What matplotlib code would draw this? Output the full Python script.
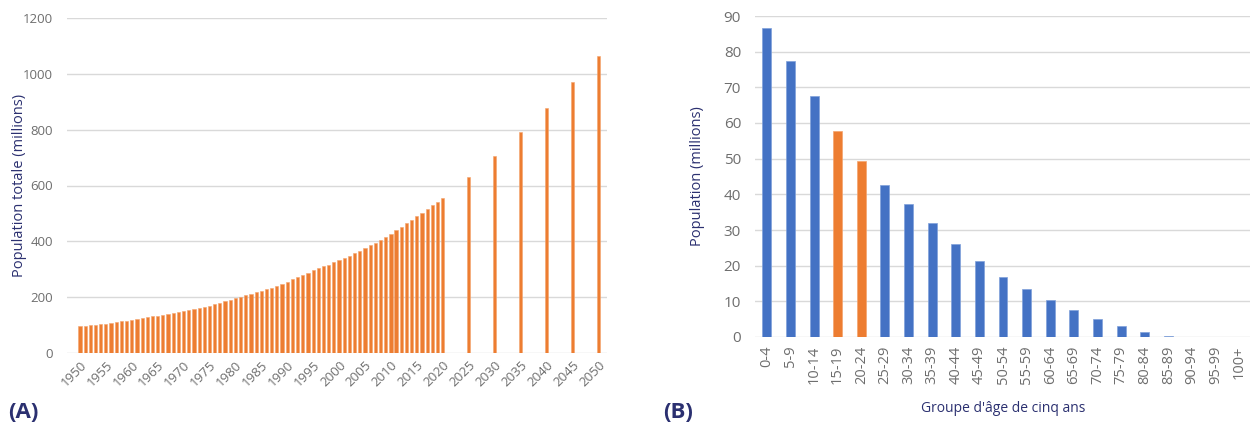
import numpy as np
import matplotlib.pyplot as plt

# Panel A: total population (millions), annual 1950-2020 then projections every 5 years
years_hist = list(range(1950, 2021))
pop_hist = [95.5, 97.5, 99.5, 101.5, 103.5, 105.5, 108, 110.5, 113, 116,
            119, 122, 125, 128, 131, 134, 137, 140, 143, 146,
            149, 153, 157, 161, 165, 170, 175, 180, 185, 191,
            197, 202, 207, 212, 217, 222, 228, 234, 241, 248,
            256, 264, 272, 280, 288, 296, 303, 310, 317, 325,
            333, 341, 349, 357, 366, 376, 386, 395, 405, 416,
            428, 439, 452, 464, 476, 490, 503, 515, 529, 542, 556]
years_proj = [2025, 2030, 2035, 2040, 2045, 2050]
pop_proj = [629, 707, 791, 877, 971, 1065]
year_ticks = list(range(1950, 2051, 5))

# Panel B: population by five-year age group (millions)
age_groups = ['0-4', '5-9', '10-14', '15-19', '20-24', '25-29', '30-34', '35-39',
              '40-44', '45-49', '50-54', '55-59', '60-64', '65-69', '70-74',
              '75-79', '80-84', '85-89', '90-94', '95-99', '100+']
pop_age = [86.5, 77.3, 67.5, 57.7, 49.3, 42.7, 37.4, 32.0, 26.1, 21.3, 16.9,
           13.5, 10.4, 7.5, 5.1, 3.0, 1.3, 0.4, 0.05, 0.0, 0.0]
highlight = ['15-19', '20-24']

orange = '#ED7D31'
blue = '#4472C4'
navy = '#2B3070'
tick_col = '#6E6E6E'
grid_col = '#D9D9D9'

plt.rcParams['font.family'] = ['Open Sans', 'DejaVu Sans']

fig = plt.figure(figsize=(12.5, 4.28), dpi=100)

# ---- Panel A ----
ax1 = fig.add_axes([67 / 1250, 1 - 353 / 428, 540 / 1250, 335 / 428])
years_all = years_hist + years_proj
pop_all = pop_hist + pop_proj
ax1.bar(years_all, pop_all, width=0.62, color=orange, edgecolor='#F4A46E', linewidth=0.4, zorder=3)
ax1.set_xlim(1947.5, 2051.7)
ax1.set_ylim(0, 1200)
ax1.set_yticks(range(0, 1201, 200))
ax1.set_xticks(year_ticks)
ax1.set_xticklabels([str(y) for y in year_ticks], rotation=45, ha='right',
                    rotation_mode='anchor', fontsize=9.5, color=tick_col)
ax1.tick_params(axis='y', labelsize=9.5, colors=tick_col, length=0, pad=10)
ax1.tick_params(axis='x', length=0, pad=4)
ax1.yaxis.grid(True, color=grid_col, linewidth=1.0, zorder=0)
ax1.set_axisbelow(True)
for s in ax1.spines.values():
    s.set_visible(False)
ax1.set_ylabel('Population totale (millions)', color=navy, fontsize=10.5)
ax1.yaxis.set_label_coords((27 - 67) / 540, 0.5)
fig.text(8 / 1250, 1 - 413 / 428, '(A)', fontsize=16, fontweight='bold', color=navy, va='center')

# ---- Panel B ----
ax2 = fig.add_axes([755 / 1250, 1 - 337 / 428, 496 / 1250, 321 / 428])
x = np.arange(len(age_groups))
colors = [orange if g in highlight else blue for g in age_groups]
edges = ['#F4A46E' if g in highlight else '#7FA0DA' for g in age_groups]
ax2.bar(x, pop_age, width=0.38, color=colors, edgecolor=edges, linewidth=0.5, zorder=3)
ax2.set_xlim(-0.5, 20.5)
ax2.set_ylim(0, 90)
ax2.set_yticks(range(0, 91, 10))
ax2.set_xticks(x)
ax2.set_xticklabels(age_groups, rotation=90, fontsize=10.5, color=tick_col)
ax2.tick_params(axis='y', labelsize=11, colors=tick_col, length=0, pad=10)
ax2.tick_params(axis='x', length=0, pad=6)
ax2.yaxis.grid(True, color=grid_col, linewidth=1.0, zorder=0)
ax2.set_axisbelow(True)
for s in ax2.spines.values():
    s.set_visible(False)
ax2.set_ylabel('Population (millions)', color=navy, fontsize=10.5)
ax2.yaxis.set_label_coords((705 - 755) / 496, 0.5)
ax2.set_xlabel("Groupe d'âge de cinq ans", color=navy, fontsize=10, labelpad=12)
fig.text(663 / 1250, 1 - 413 / 428, '(B)', fontsize=16, fontweight='bold', color=navy, va='center')

fig.savefig('out.png', dpi=100, facecolor='white')
